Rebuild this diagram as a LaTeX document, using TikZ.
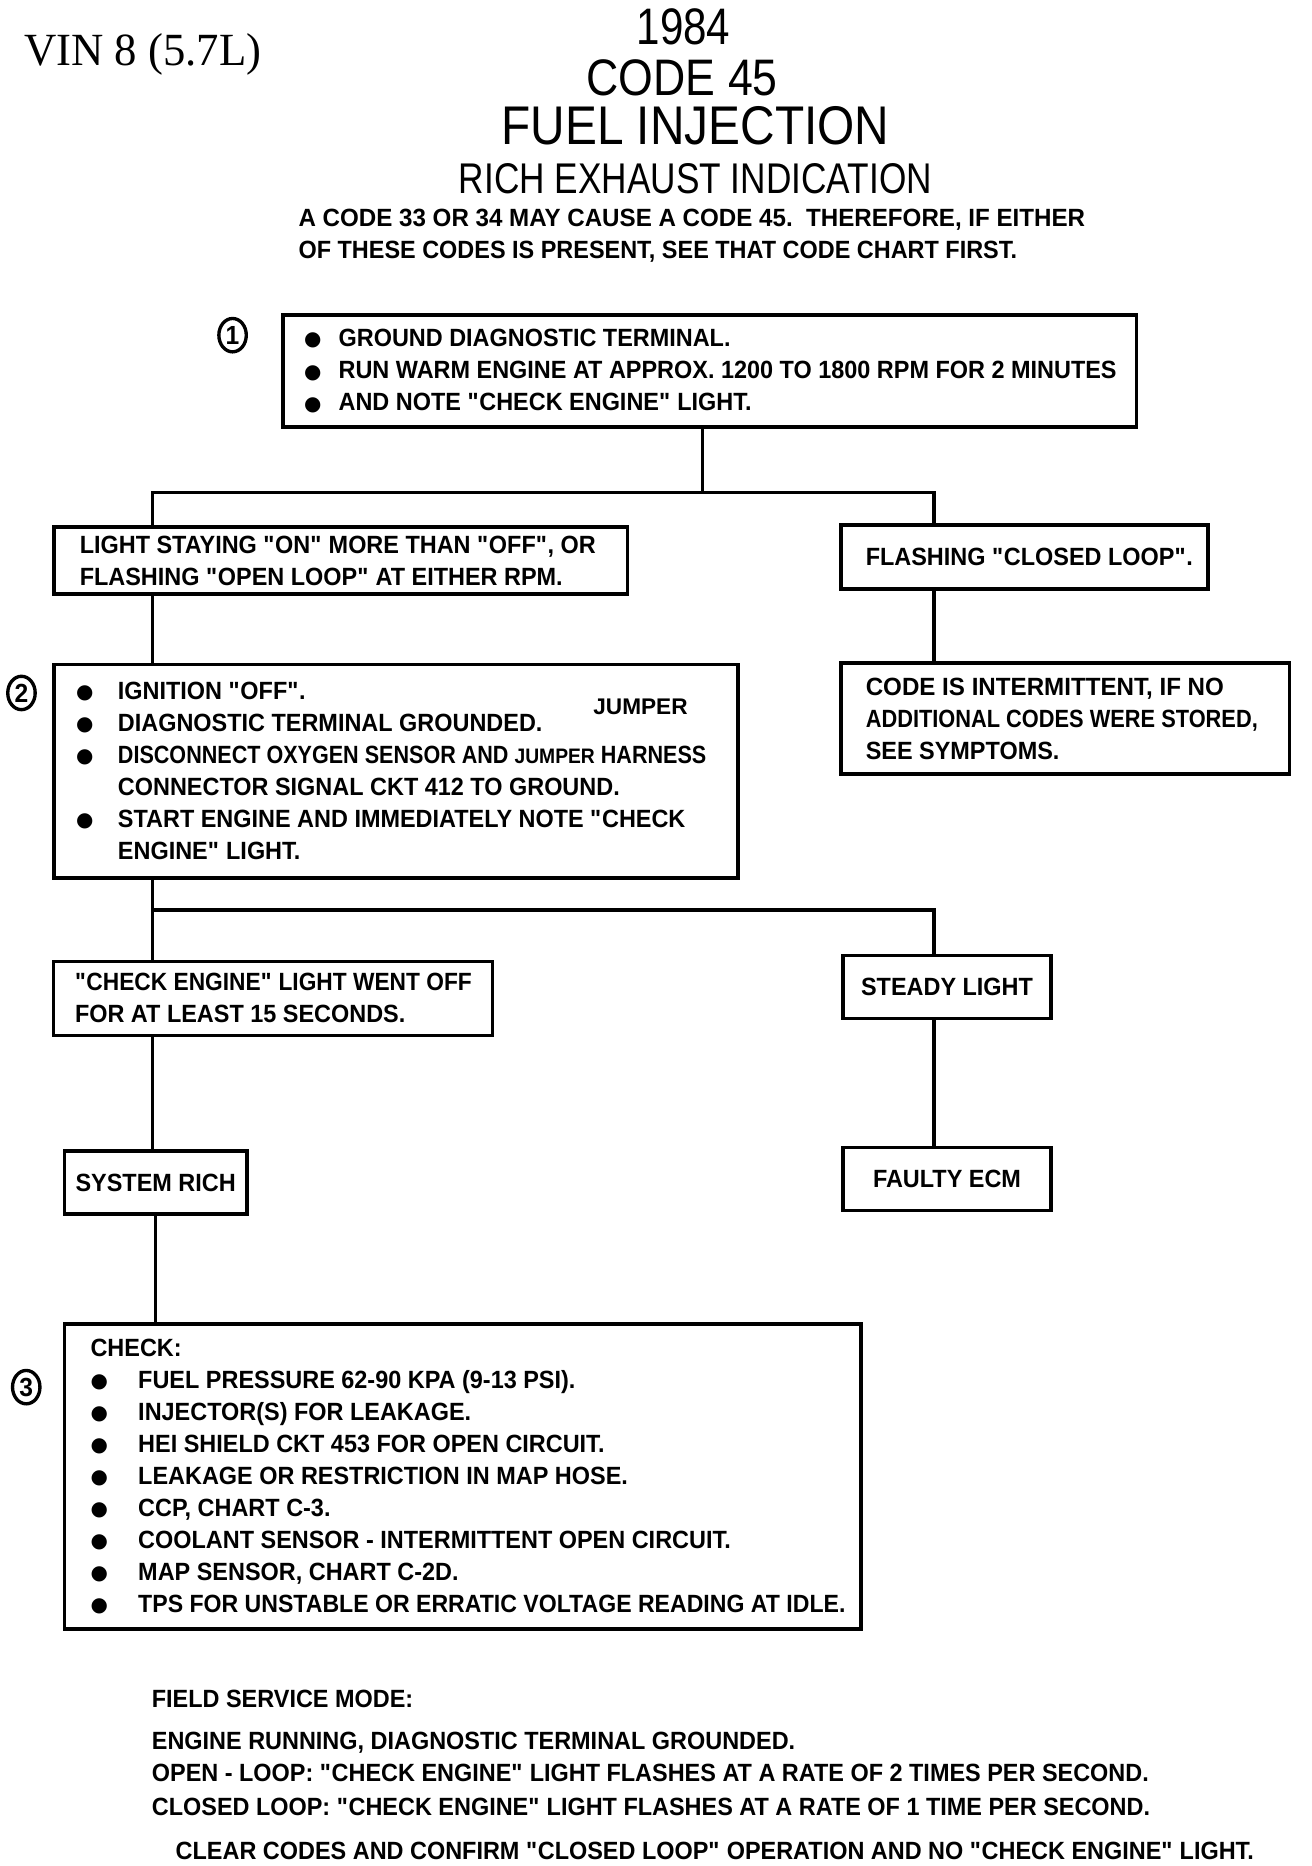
\documentclass[tikz,border=0pt]{standalone}
\usepackage{fontspec}
\setmainfont{Liberation Sans}[FakeStretch=0.94]
\newfontfamily\ttlfont{Liberation Sans}[FakeStretch=0.82]
\newfontfamily\vinfont{Liberation Serif}[FakeStretch=0.97]
\newfontfamily\symfont{DejaVu Sans}
\newfontfamily\jmpfont{Liberation Sans}
\usetikzlibrary{positioning,shapes.geometric}

\newcommand{\chartfont}{\fontsize{11.9pt}{15.3pt}\selectfont\bfseries}
\newcommand{\blt}[1]{\makebox[#1][l]{\symfont\fontsize{9.5pt}{10pt}\selectfont\raisebox{0.4pt}{●}}}
\newcommand{\dq}{\textquotedbl}

\tikzset{
  box/.style={draw, line width=1.7pt, inner sep=0pt},
  txt/.style={inner sep=0pt, align=left, font=\chartfont},
  link/.style={line width=1.7pt},
  stepno/.style={draw, ellipse, line width=1.6pt, inner sep=0pt, minimum width=0.46cm, minimum height=0.56cm, font=\bfseries\fontsize{12.5pt}{13pt}\selectfont},
}

\begin{document}
\begin{tikzpicture}[x=0.02cm,y=-0.02cm]
  \useasboundingbox (0,0) rectangle (1100,1564.5);
  % heading
  \node[anchor=base west, inner sep=0pt, font=\vinfont\fontsize{22pt}{24pt}\selectfont] (vin) at (20,55) {VIN 8 (5.7L)};
  \node[anchor=base, inner sep=0pt, font=\ttlfont\fontsize{24.5pt}{26pt}\selectfont] (year) at (573,37) {1984};
  \node[anchor=base, inner sep=0pt, font=\ttlfont\fontsize{24.5pt}{26pt}\selectfont] (code) at (572,80) {\scalebox{1.06}[1]{CODE 45}};
  \node[anchor=base, inner sep=0pt, font=\ttlfont\fontsize{26pt}{28pt}\selectfont] (fuel) at (583,121) {\scalebox{1.07}[1]{FUEL INJECTION}};
  \node[anchor=base, inner sep=0pt, font=\ttlfont\fontsize{20.5pt}{22pt}\selectfont] (rich) at (583,162) {RICH EXHAUST INDICATION};
  \node[txt, anchor=base west] (note1) at (250,190) {\scalebox{1.03}[1]{A CODE 33 OR 34 MAY CAUSE A CODE 45.\ \ THEREFORE, IF EITHER}};
  \node[txt, anchor=base west] (note2) at (250,217) {OF THESE CODES IS PRESENT, SEE THAT CODE CHART FIRST.};

  % step 1
  \node[stepno] (no1) at (195,281) {1};
  \node[box, minimum width=14.32cm, minimum height=1.88cm] (chk1) at (595,311) {};
  \node[txt, right=0.38cm of chk1.west] (chk1txt) {\blt{0.58cm}GROUND DIAGNOSTIC TERMINAL.\\
    \blt{0.58cm}RUN WARM ENGINE AT APPROX. 1200 TO 1800 RPM FOR 2 MINUTES\\
    \blt{0.58cm}AND NOTE \dq CHECK ENGINE\dq\ LIGHT.};

  \node[box, minimum width=9.62cm, minimum height=1.12cm] (onlight) at (285.5,470) {};
  \node[txt, right=0.46cm of onlight.west] (onlighttxt) {LIGHT STAYING \dq ON\dq\ MORE THAN \dq OFF\dq, OR\\
    FLASHING \dq OPEN LOOP\dq\ AT EITHER RPM.};
  \node[box, minimum width=6.16cm, minimum height=1.08cm] (closed) at (859,467) {};
  \node[txt, right=0.44cm of closed.west] (closedtxt) {FLASHING \dq CLOSED LOOP\dq.};

  \coordinate (j1) at (589,413);
  \coordinate (j1l) at (128,413);
  \coordinate (j1r) at (783,413);
  \draw[link] (chk1.south -| j1) -- (j1);
  \draw[link, line join=miter] (onlight.north -| j1l) -- (j1l) -- (j1r) -- (closed.north -| j1r);

  % step 2
  \node[stepno] (no2) at (18,581) {2};
  \node[box, minimum width=11.48cm, minimum height=3.58cm] (step2) at (332,646.5) {};
  \node[txt, right=0.4cm of step2.west] (step2txt) {\blt{0.7cm}IGNITION \dq OFF\dq.\\
    \blt{0.7cm}DIAGNOSTIC TERMINAL GROUNDED.\\
    \blt{0.7cm}\scalebox{0.92}[1]{DISCONNECT OXYGEN SENSOR AND {\jmpfont\fontsize{10pt}{12pt}\selectfont JUMPER} HARNESS}\\
    \hspace*{0.7cm}CONNECTOR SIGNAL CKT 412 TO GROUND.\\
    \blt{0.7cm}START ENGINE AND IMMEDIATELY NOTE \dq CHECK\\
    \hspace*{0.7cm}ENGINE\dq\ LIGHT.};
  \node[inner sep=0pt, font=\jmpfont\bfseries\fontsize{10.8pt}{12pt}\selectfont] (jumper) at (537,593) {JUMPER};
  \node[box, minimum width=7.52cm, minimum height=1.86cm] (intermit) at (893,602.5) {};
  \node[txt, right=0.44cm of intermit.west] (intermittxt) {\scalebox{1.03}[1]{CODE IS INTERMITTENT, IF NO}\\
    \scalebox{0.93}[1]{ADDITIONAL CODES WERE STORED,}\\
    SEE SYMPTOMS.};
  \draw[link] (onlight.south -| j1l) -- (step2.north -| j1l);
  \draw[link] (closed.south -| j1r) -- (intermit.north -| j1r);

  \node[box, minimum width=7.36cm, minimum height=1.24cm] (wentoff) at (229,837) {};
  \node[txt, right=0.38cm of wentoff.west] (wentofftxt) {\scalebox{0.97}[1]{\dq CHECK ENGINE\dq\ LIGHT WENT OFF}\\
    FOR AT LEAST 15 SECONDS.};
  \node[box, minimum width=3.48cm, minimum height=1.06cm, font=\chartfont] (steady) at (794,827.5) {STEADY LIGHT};

  \coordinate (j2l) at (128,763);
  \coordinate (j2r) at (783,763);
  \draw[link] (step2.south -| j2l) -- (j2l);
  \draw[link, line join=miter] (wentoff.north -| j2l) -- (j2l) -- (j2r) -- (steady.north -| j2r);

  \node[box, minimum width=3.06cm, minimum height=1.06cm, font=\chartfont] (sysrich) at (130.5,991.5) {SYSTEM RICH};
  \node[box, minimum width=3.48cm, minimum height=1.06cm, font=\chartfont] (faulty) at (794,988.5) {FAULTY ECM};
  \draw[link] (wentoff.south -| j2l) -- (sysrich.north -| j2l);
  \draw[link] (steady.south -| j2r) -- (faulty.north -| j2r);

  % step 3
  \node[stepno] (no3) at (22,1163) {3};
  \node[box, minimum width=13.36cm, minimum height=5.12cm] (check) at (388,1238) {};
  \node[txt, right=0.46cm of check.west] (checktxt) {CHECK:\\
    \blt{0.8cm}FUEL PRESSURE 62-90 KPA (9-13 PSI).\\
    \blt{0.8cm}INJECTOR(S) FOR LEAKAGE.\\
    \blt{0.8cm}HEI SHIELD CKT 453 FOR OPEN CIRCUIT.\\
    \blt{0.8cm}LEAKAGE OR RESTRICTION IN MAP HOSE.\\
    \blt{0.8cm}CCP, CHART C-3.\\
    \blt{0.8cm}COOLANT SENSOR - INTERMITTENT OPEN CIRCUIT.\\
    \blt{0.8cm}MAP SENSOR, CHART C-2D.\\
    \blt{0.8cm}\scalebox{0.985}[1]{TPS FOR UNSTABLE OR ERRATIC VOLTAGE READING AT IDLE.}};
  \draw[link] (sysrich.south) -- (sysrich.south |- check.north);

  % field service mode
  \node[txt, anchor=base west] (fsm) at (127,1432) {FIELD SERVICE MODE:};
  \node[txt, anchor=base west] (fsm1) at (127,1467) {ENGINE RUNNING, DIAGNOSTIC TERMINAL GROUNDED.};
  \node[txt, anchor=base west] (fsm2) at (127,1494) {OPEN - LOOP: \dq CHECK ENGINE\dq\ LIGHT FLASHES AT A RATE OF 2 TIMES PER SECOND.};
  \node[txt, anchor=base west] (fsm3) at (127,1522) {CLOSED LOOP: \dq CHECK ENGINE\dq\ LIGHT FLASHES AT A RATE OF 1 TIME PER SECOND.};
  \node[txt, anchor=base west] (clear) at (147,1559) {CLEAR CODES AND CONFIRM \dq CLOSED LOOP\dq\ OPERATION AND NO \dq CHECK ENGINE\dq\ LIGHT.};
\end{tikzpicture}
\end{document}
